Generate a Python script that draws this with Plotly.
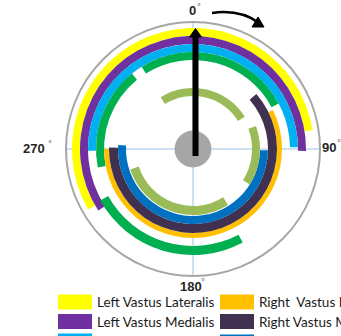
import plotly.graph_objects as go

W, H = 341, 336

# Muscle series (legend order) and their colours
series_names = [
    "Left Vastus Lateralis", "Left Vastus Medialis", "Left Rectus Femoris", "Left Biceps Femoris",
    "Right  Vastus Lateralis", "Right Vastus Medialis", "Right Rectus Femoris", "Right Biceps Femoris",
]
series_colors = ["#FFFF00", "#7030A0", "#00B0F0", "#00B050",
                 "#FFC000", "#403151", "#0070C0", "#9BBB59"]

# Activation segments: owning series, start/end crank angle (deg, clockwise from top),
# ring inner/outer radius
seg_series = [0, 1, 2, 3, 3, 3, 4, 5, 6, 7, 7, 7]
seg_start = [240, 237, 269, 328, 259, 152, 64, 49, 91, 328, 70, 148]
seg_end = [81, 91, 89, 62, 321, 241, 270, 271, 273, 58, 122, 252]
seg_r_in = [113, 105, 97, 89, 89, 97, 84, 75, 67, 53, 59, 57]
seg_r_out = [121, 113, 105, 97, 97, 106, 89, 84, 75, 61, 67, 66]

angle_ticks = [0, 90, 180, 270]
angle_labels = ["0", "90", "180", "270"]

# Polar area geometry in pixels
CX, CY, RPX = 193, 149, 127
R_MAX = 127


def px(x):
    return x / W


def py(y):
    return 1 - y / H


fig = go.Figure()

for i, name in enumerate(series_names):
    thetas, widths, bases, lens = [], [], [], []
    for s, a0, a1, r0, r1 in zip(seg_series, seg_start, seg_end, seg_r_in, seg_r_out):
        if s != i:
            continue
        span = (a1 - a0) % 360
        thetas.append((a0 + span / 2) % 360)
        widths.append(span)
        bases.append(r0)
        lens.append(r1 - r0)
    fig.add_trace(go.Barpolar(
        theta=thetas, width=widths, base=bases, r=lens, name=name,
        marker=dict(color=series_colors[i], line=dict(width=0)),
        showlegend=False, hoverinfo="name",
    ))

fig.update_layout(
    width=W, height=H, autosize=False,
    margin=dict(l=0, r=0, t=0, b=0, pad=0),
    paper_bgcolor="white",
    polar=dict(
        domain=dict(x=[px(CX - RPX), px(CX + RPX)], y=[py(CY + RPX), py(CY - RPX)]),
        bgcolor="white",
        radialaxis=dict(range=[0, R_MAX], visible=False, showgrid=False),
        angularaxis=dict(
            rotation=90, direction="clockwise",
            tickmode="array", tickvals=angle_ticks, showticklabels=False, ticks="",
            showgrid=True, gridcolor="#9DC3E6", gridwidth=1,
            showline=True, linecolor="#A6A6A6", linewidth=2,
        ),
    ),
)

shapes = []
# grey hub
shapes.append(dict(type="circle", xref="paper", yref="paper",
                   x0=px(CX - 18.5), x1=px(CX + 18.5), y0=py(CY + 18.5), y1=py(CY - 18.5),
                   fillcolor="#A6A6A6", line=dict(width=0)))
# crank arrow pointing to 0 deg
shapes.append(dict(type="line", xref="paper", yref="paper",
                   x0=px(195.5), x1=px(195.5), y0=py(156), y1=py(35),
                   line=dict(color="black", width=6)))
shapes.append(dict(type="path", xref="paper", yref="paper",
                   path=f"M {px(189.5)},{py(37)} L {px(195.5)},{py(28.5)} L {px(201.5)},{py(37)} Z",
                   fillcolor="black", line=dict(color="black", width=1)))
# rotation direction arrow
shapes.append(dict(type="path", xref="paper", yref="paper",
                   path=f"M {px(212)},{py(13)} Q {px(240)},{py(9)} {px(259)},{py(23)}",
                   line=dict(color="black", width=2.5)))
shapes.append(dict(type="path", xref="paper", yref="paper",
                   path=f"M {px(252)},{py(27)} L {px(264)},{py(27)} L {px(258)},{py(17)} Z",
                   fillcolor="black", line=dict(color="black", width=1)))

annotations = []
label_pos = {"0": (192, 11), "90": (328.5, 147), "180": (191.5, 286), "270": (34, 148.5)}
deg_pos = {"0": (199, 7), "90": (338.5, 143), "180": (203, 282), "270": (50, 144)}
for lab in angle_labels:
    x, y = label_pos[lab]
    annotations.append(dict(xref="paper", yref="paper", x=px(x), y=py(y), xanchor="center",
                            yanchor="middle", showarrow=False, text=f"<b>{lab}</b>",
                            font=dict(family="Liberation Sans, Arial", size=13, color="#262626")))
    dx, dy = deg_pos[lab]
    annotations.append(dict(xref="paper", yref="paper", x=px(dx), y=py(dy), xanchor="center",
                            yanchor="middle", showarrow=False, text="°",
                            font=dict(family="DejaVu Sans", size=8, color="#595959")))

# legend: two columns, rows cut by the page bottom
col_x = [58, 220]
row_y = [294.5, 314, 333.5]
for i in range(6):
    col = 0 if i < 3 else 1
    row = i % 3
    idx = i if col == 0 else 4 + row
    x0 = col_x[col]
    y0 = row_y[row] + (1 if (col == 1 and row == 2) else 0)
    shapes.append(dict(type="rect", xref="paper", yref="paper",
                       x0=px(x0), x1=px(x0 + 34), y0=py(y0 + 15), y1=py(y0),
                       fillcolor=series_colors[idx], line=dict(width=0)))
    annotations.append(dict(xref="paper", yref="paper", x=px(x0 + 37), y=py(y0 + 7.5),
                            xanchor="left", yanchor="middle", showarrow=False,
                            text=series_names[idx],
                            font=dict(family="Lato", size=13.5, color="#1a1a1a")))

fig.update_layout(shapes=shapes, annotations=annotations)
fig.write_html("out.html")
